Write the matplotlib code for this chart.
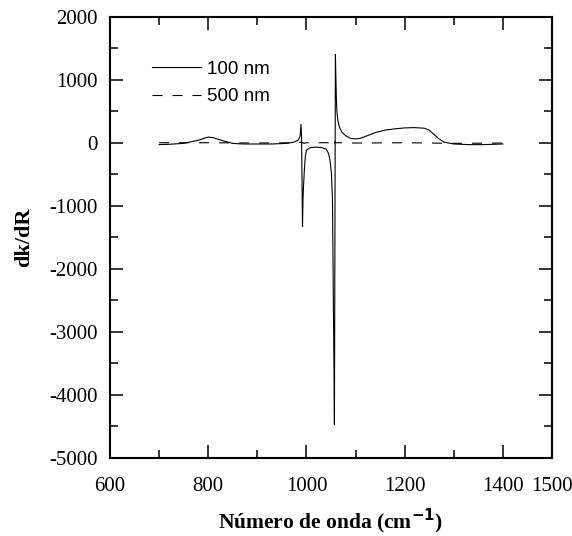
import matplotlib
matplotlib.use("Agg")
import matplotlib.pyplot as plt
from matplotlib.ticker import MultipleLocator, FixedLocator, FixedFormatter

plt.rcParams["axes.unicode_minus"] = False

# 100 nm film
wn_100 = [700, 720, 750, 780, 800, 810, 830, 850, 870, 900, 930, 960, 975, 983, 987,
          989, 990, 991, 992, 993, 994, 996, 998, 1000, 1005, 1010, 1020, 1030, 1040,
          1045, 1048, 1051, 1053, 1055, 1056, 1057, 1058, 1059, 1060, 1061, 1062, 1064,
          1067, 1072, 1080, 1090, 1100, 1110, 1120, 1140, 1160, 1180, 1200, 1220, 1240,
          1250, 1260, 1270, 1280, 1300, 1330, 1360, 1400]
k_100 = [-30, -25, -10, 40, 90, 80, 30, -10, -20, -20, -20, -10, 10, 40, 100,
         290, 100, -600, -1330, -900, -700, -400, -200, -120, -90, -75, -70, -75, -100,
         -170, -280, -500, -900, -2660, -3500, -4470, -1500, 1400, 1000, 700, 500, 350,
         250, 170, 110, 70, 60, 70, 100, 160, 200, 220, 235, 240, 230,
         200, 130, 60, 10, -20, -30, -30, -20]

# 500 nm film
wn_500 = [700, 800, 900, 980, 990, 995, 1000, 1050, 1056, 1058, 1060, 1070, 1100, 1200, 1300, 1400]
k_500 = [0, 0, -5, 0, 10, -10, 0, 0, -60, 20, 0, 0, -5, 0, -10, -5]

xtick_labels = ["600", "800", "1000", "1200", "1400", "1500"]
xtick_vals = [600, 800, 1000, 1200, 1400, 1500]
ytick_vals = [-5000, -4000, -3000, -2000, -1000, 0, 1000, 2000]

fig = plt.figure(figsize=(5.72, 5.36), dpi=100)
ax = fig.add_axes([0.1923, 0.1455, 0.7727, 0.8235])

ax.plot(wn_100, k_100, color="black", lw=0.8, label="100 nm")
ax.plot(wn_500, k_500, color="black", lw=0.8, ls=(0, (9, 9)), label="500 nm")

ax.set_xlim(600, 1500)
ax.set_ylim(-5000, 2000)

serif = "Liberation Serif"
ax.xaxis.set_major_locator(FixedLocator(xtick_vals))
ax.xaxis.set_major_formatter(FixedFormatter(xtick_labels))
ax.xaxis.set_minor_locator(FixedLocator([700, 900, 1100, 1300]))
ax.yaxis.set_major_locator(FixedLocator(ytick_vals))
ax.yaxis.set_minor_locator(MultipleLocator(500))

ax.tick_params(which="both", direction="in", top=True, right=True, width=1.1)
ax.tick_params(which="major", length=9.5, labelsize=15)
ax.tick_params(which="minor", length=5.5)
ax.tick_params(axis="x", which="major", pad=14)
ax.tick_params(axis="y", which="major", pad=9)
for lab in ax.get_xticklabels() + ax.get_yticklabels():
    lab.set_fontfamily(serif)
for s in ax.spines.values():
    s.set_linewidth(1.5)

ax.set_xlabel("Número de onda (cm$^{\\mathbf{-1}}$)", fontfamily=serif, fontweight="bold",
              fontsize=15.5)
ax.set_ylabel("dk/dR", fontfamily=serif, fontweight="bold", fontsize=16)
ax.xaxis.set_label_coords(0.5, -0.143)
ax.xaxis.label.set_verticalalignment("center")
ax.yaxis.set_label_coords(-0.195, 0.5)
ax.yaxis.label.set_verticalalignment("center")

leg = ax.legend(loc="upper left", bbox_to_anchor=(0.095, 0.90), frameon=False,
                borderpad=0, borderaxespad=0,
                prop={"family": "Liberation Sans", "size": 13.5}, handlelength=2.6,
                handletextpad=0.35, labelspacing=0.55)

fig.savefig("out.png", dpi=100)
